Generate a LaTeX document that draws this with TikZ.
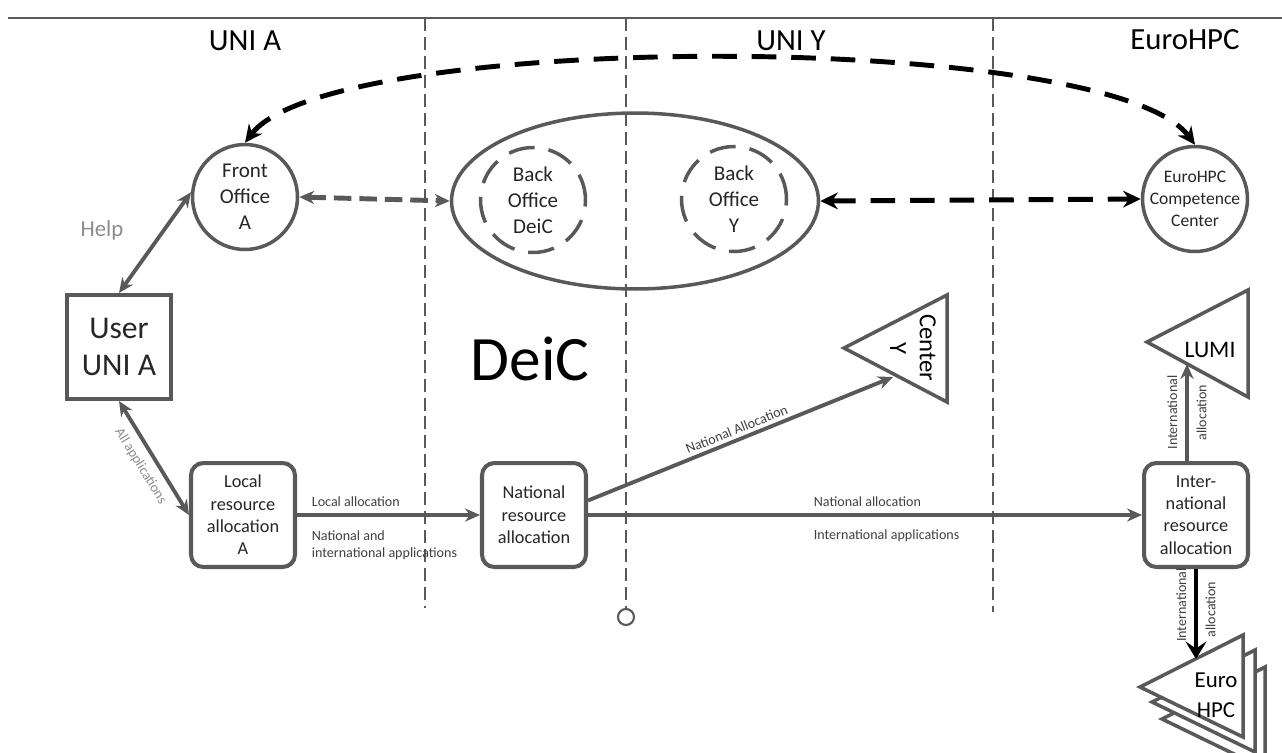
\documentclass[tikz,border=0pt]{standalone}
\usepackage{fontspec}
\setmainfont{Carlito}
\usetikzlibrary{shapes.geometric,positioning,arrows.meta}

\definecolor{linegray}{RGB}{89,89,89}
\definecolor{helpgray}{RGB}{140,140,140}
\definecolor{textgray}{RGB}{64,64,64}

\begin{document}
\begin{tikzpicture}[x=0.02cm, y=-0.02cm,
    >={Stealth[length=8.5pt,width=7.5pt]},
    office/.style={circle, draw=linegray, line width=2pt, minimum size=2.1cm, inner sep=0pt, align=center, text=black!85, font=\fontsize{12}{14.7}\selectfont},
    backoffice/.style={office, dash pattern=on 15pt off 8pt},
    resbox/.style={rectangle, rounded corners=7pt, draw=linegray, line width=2.3pt, minimum width=2.08cm, minimum height=2.08cm, inner sep=0pt, align=center, text=black!85, font=\fontsize{10.4}{12.7}\selectfont},
    flow/.style={draw=linegray, line width=2.2pt, ->},
    flowlabel/.style={font=\fontsize{8}{9.6}\selectfont, text=textgray, inner sep=2pt},
    sidelabel/.style={flowlabel, rotate=90, outer sep=3.5pt},
    gdash/.style={draw=linegray, line width=2.8pt, dash pattern=on 10pt off 4.5pt},
    bdash/.style={draw=black, line width=2.8pt, dash pattern=on 14pt off 8.5pt, >={Stealth[length=10pt,width=9.5pt]}},
    site/.style={draw=linegray, line width=2pt, line join=miter},
    zoneline/.style={draw=linegray, line width=0.8pt, dash pattern=on 7.4pt off 3.4pt},
    region/.style={font=\fontsize{17.5}{20}\selectfont}
  ]
  \useasboundingbox (0,0) rectangle (1282,752);
  \clip (0,0) rectangle (1282,752);

  % Frame and zones
  \draw[linegray, line width=1pt] (8,18) -- (1282,18);
  \draw[zoneline] (425,18) -- (425,608);
  \draw[zoneline] (626,18) -- (626,608);
  \draw[linegray, line width=1.2pt] (626,617) circle[radius=0.16cm];
  \draw[zoneline] (993,18) -- (993,612);

  % Titles
  \node[region] (unia) at (245,41) {UNI A};
  \node[region] (uniy) at (791,41) {UNI Y};
  \node[region] (eurohpc) at (1185,40) {EuroHPC};
  \node[font=\fontsize{36}{40}\selectfont] (deic) at (530,359) {DeiC};

  % Offices
  \node[office] (fo) at (245,197) {Front\\Office\\A};
  \node[ellipse, draw=linegray, line width=2pt, minimum width=7.34cm, minimum height=3.52cm] (bo) at (635,201) {};
  \node[backoffice] (bodeic) at (533,200) {Back\\Office\\DeiC};
  \node[backoffice] (boy) at (734,199) {Back\\Office\\Y};
  \node[office, label={[align=center, text=black!85, font=\fontsize{10}{12.5}\selectfont]center:EuroHPC\\Competence\\Center}] (cc) at (1195,199) {};

  % User
  \node[rectangle, draw=linegray, line width=2.3pt, minimum width=2.08cm, minimum height=2.08cm, align=center, text=black!85, font=\fontsize{18}{21.5}\selectfont] (user) at (119,347) {User\\UNI A};
  \node[text=helpgray, font=\fontsize{13}{15}\selectfont] (help) at (102,230) {Help};

  % Allocation boxes
  \node[resbox] (local) at (243,515) {Local\\resource\\allocation\\A};
  \node[resbox] (national) at (534,515) {National\\resource\\allocation};
  \node[resbox] (intl) at (1196,515) {Inter-\\national\\resource\\allocation};

  % Centers
  \draw[site] (844,348) -- (947,295) -- (947,402) -- cycle;
  \node[rotate=-90, align=center, font=\fontsize{14}{17}\selectfont] (centery) at (913,348) {Center\\Y};
  \coordinate (cy) at (893,377);

  \draw[site] (1147,342) -- (1248,290) -- (1248,397) -- cycle;
  \node[font=\fontsize{13.5}{16}\selectfont] (lumitext) at (1210,350) {LUMI};
  \coordinate (lumi) at (1187,364);

  \foreach \dx/\dy in {22/32, 12/15, 0/0}
    \draw[site, fill=white, shift={(\dx,\dy)}] (1140,687) -- (1243,635) -- (1243,737) -- cycle;
  \node[align=center, font=\fontsize{13}{17}\selectfont] (hpctext) at (1216,695) {Euro\\HPC};
  \coordinate (hpc) at (1196,659);

  % Office links
  \draw[bdash, <->] (fo.north) .. controls (330,30) and (1110,30) .. (cc.north);
  \draw[gdash, <->] (fo.east) -- (bo.west);
  \draw[bdash, <->] (bo.east) -- (cc.west);
  \draw[flow, <->] (user.north) -- (fo.175);

  % Applications and allocations
  \draw[flow, <->] (user.south) -- node[sloped, below, flowlabel, outer sep=3.5pt, text=helpgray] {All applications} (local.west);
  \draw[flow] (local.east) -- (national.west);
  \draw[flow] (national.15) -- node[sloped, above, flowlabel] {National Allocation} (cy);
  \draw[flow] (national.east) -- (intl.west);
  \draw[flow] (intl.north -| lumi) -- node[sidelabel, anchor=south] {International} node[sidelabel, anchor=north] {allocation} (lumi);
  \draw[flow, draw=black, >={Stealth[length=10pt,width=12pt,inset=4pt]}] (intl.south) -- node[sidelabel, anchor=south, pos=0.4] {International} node[sidelabel, anchor=north, pos=0.45] {allocation} (hpc);

  \node[flowlabel, anchor=west] (lalloc) at (308,502) {Local allocation};
  \node[flowlabel, anchor=west, align=left] (napps) at (308,545) {National and\\international applications};
  \node[flowlabel, anchor=west] (nalloc) at (810,502) {National allocation};
  \node[flowlabel, anchor=west] (iapps) at (810,536) {International applications};
\end{tikzpicture}
\end{document}
